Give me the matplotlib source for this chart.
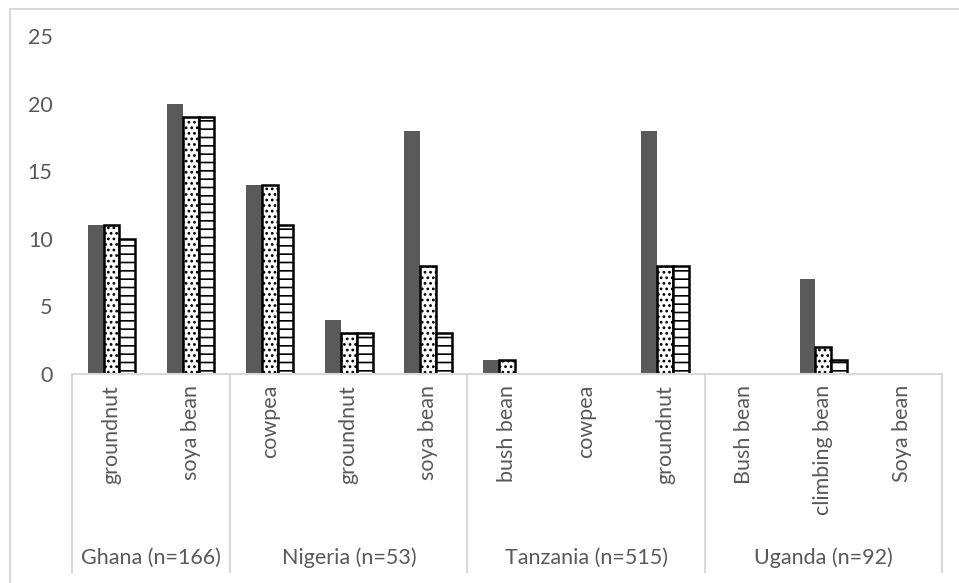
import numpy as np
import matplotlib
matplotlib.use('Agg')
import matplotlib.pyplot as plt
from matplotlib.patches import Rectangle
from matplotlib.lines import Line2D
from matplotlib.transforms import blended_transform_factory

plt.rcParams['font.family'] = ['Lato', 'DejaVu Sans']
plt.rcParams['hatch.linewidth'] = 1.2

TEXT = '#595959'
DARK = '#5a5a5a'
AXIS = '#d9d9d9'
FS = 15.5

countries = ['Ghana (n=166)', 'Nigeria (n=53)', 'Tanzania (n=515)', 'Uganda (n=92)']
crops = [['groundnut', 'soya bean'],
         ['cowpea', 'groundnut', 'soya bean'],
         ['bush bean', 'cowpea', 'groundnut'],
         ['Bush bean', 'climbing bean', 'Soya bean']]
# three series per crop (solid, dotted, horizontal lines)
series_a = [11, 20, 14, 4, 18, 1, 0, 18, 0, 7, 0]
series_b = [11, 19, 14, 3, 8, 1, 0, 8, 0, 2, 0]
series_c = [10, 19, 11, 3, 3, 0, 0, 8, 0, 1, 0]

W, H = 959, 583
fig = plt.figure(figsize=(W / 100, H / 100), dpi=100)
fig.patch.set_facecolor('white')

# outer chart frame (only left/top visible in the crop)
fig.add_artist(Rectangle((9.5 / W, -0.1), 1.2, 1.1 - 9.5 / H, transform=fig.transFigure,
                         fill=False, edgecolor=AXIS, lw=1.5))

x0, x1 = 72, 942
ytop, ybot = 36, 374
ax = fig.add_axes([x0 / W, (H - ybot) / H, (x1 - x0) / W, (ybot - ytop) / H])

labels = [c for g in crops for c in g]
n = len(labels)
x = np.arange(n)
bw = 0.2
nz = lambda v: np.where(np.array(v) > 0, v, np.nan)
ax.bar(x - bw, nz(series_a), bw, color=DARK, edgecolor=DARK, lw=0)
ax.bar(x, nz(series_b), bw, color='white', edgecolor='black', hatch='...', lw=1.8)
ax.bar(x + bw, nz(series_c), bw, color='white', edgecolor='black', hatch='--', lw=1.8)

ax.set_xlim(-0.5, n - 0.5)
ax.set_ylim(0, 25)
ax.set_yticks([0, 5, 10, 15, 20, 25])
ax.tick_params(axis='y', length=0, pad=14, labelsize=FS, labelcolor=TEXT)
ax.set_xticks([])
for s in ['top', 'right', 'left']:
    ax.spines[s].set_visible(False)
ax.spines['bottom'].set_color(AXIS)
ax.spines['bottom'].set_linewidth(1.5)

tr = blended_transform_factory(ax.transData, ax.transAxes)
py = lambda p: (ybot - p) / (ybot - ytop)

for i, lab in enumerate(labels):
    ax.text(i, py(385), lab, transform=tr, rotation=90, ha='center', va='top',
            fontsize=FS, color=TEXT)

start = -0.5
bounds = [start]
for g, cname in zip(crops, countries):
    end = start + len(g)
    ax.text((start + end) / 2, py(558), cname, transform=tr, ha='center', va='center',
            fontsize=FS, color=TEXT)
    start = end
    bounds.append(end)
for b in bounds:
    ax.add_line(Line2D([b, b], [0, py(572)], transform=tr, color=AXIS, lw=1.5, clip_on=False))

fig.savefig('out.png', dpi=100, facecolor='white')
